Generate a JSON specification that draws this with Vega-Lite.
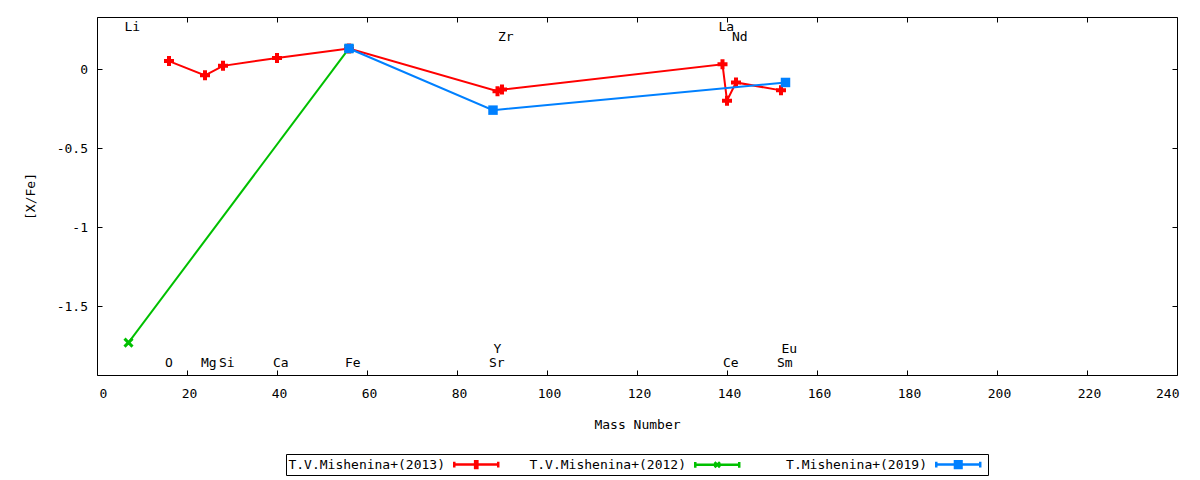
{
  "$schema": "https://vega.github.io/schema/vega-lite/v6.json",
  "width": 1080,
  "height": 358,
  "autosize": "none",
  "padding": {"left": 97, "top": 17, "right": 23, "bottom": 105},
  "background": "white",
  "config": {
    "font": "DejaVu Sans Mono",
    "view": {"stroke": "black", "strokeWidth": 1},
    "axis": {
      "grid": false, "domain": false,
      "tickColor": "black", "tickSize": -5, "tickWidth": 1,
      "labelColor": "black", "labelFontSize": 13, "labelFont": "DejaVu Sans Mono",
      "titleColor": "black", "titleFontSize": 13, "titleFont": "DejaVu Sans Mono", "titleFontWeight": "normal"
    },
    "legend": {"layout": {"bottom": {"anchor": "middle"}}}
  },
  "datasets": {
    "abund": [
      {"series": "T.V.Mishenina+(2013)", "el": "O", "mass": 16, "xfe": 0.05},
      {"series": "T.V.Mishenina+(2013)", "el": "Mg", "mass": 24, "xfe": -0.04},
      {"series": "T.V.Mishenina+(2013)", "el": "Si", "mass": 28, "xfe": 0.02},
      {"series": "T.V.Mishenina+(2013)", "el": "Ca", "mass": 40, "xfe": 0.07},
      {"series": "T.V.Mishenina+(2013)", "el": "Fe", "mass": 56, "xfe": 0.13},
      {"series": "T.V.Mishenina+(2013)", "el": "Y", "mass": 89, "xfe": -0.14},
      {"series": "T.V.Mishenina+(2013)", "el": "Zr", "mass": 90, "xfe": -0.13},
      {"series": "T.V.Mishenina+(2013)", "el": "La", "mass": 139, "xfe": 0.03},
      {"series": "T.V.Mishenina+(2013)", "el": "Ce", "mass": 140, "xfe": -0.2},
      {"series": "T.V.Mishenina+(2013)", "el": "Nd", "mass": 142, "xfe": -0.085},
      {"series": "T.V.Mishenina+(2013)", "el": "Sm", "mass": 152, "xfe": -0.135},
      {"series": "T.V.Mishenina+(2012)", "el": "Li", "mass": 7, "xfe": -1.73},
      {"series": "T.V.Mishenina+(2012)", "el": "Fe", "mass": 56, "xfe": 0.13},
      {"series": "T.Mishenina+(2019)", "el": "Fe", "mass": 56, "xfe": 0.13},
      {"series": "T.Mishenina+(2019)", "el": "Sr", "mass": 88, "xfe": -0.26},
      {"series": "T.Mishenina+(2019)", "el": "Eu", "mass": 153, "xfe": -0.085}
    ],
    "elems": [
      {"el": "Li", "mass": 7, "level": "top"},
      {"el": "La", "mass": 139, "level": "top"},
      {"el": "Zr", "mass": 90, "level": "top2"},
      {"el": "Nd", "mass": 142, "level": "top2"},
      {"el": "O", "mass": 16, "level": "bottom"},
      {"el": "Mg", "mass": 24, "level": "bottom"},
      {"el": "Si", "mass": 28, "level": "bottom"},
      {"el": "Ca", "mass": 40, "level": "bottom"},
      {"el": "Fe", "mass": 56, "level": "bottom"},
      {"el": "Sr", "mass": 88, "level": "bottom"},
      {"el": "Ce", "mass": 140, "level": "bottom"},
      {"el": "Sm", "mass": 152, "level": "bottom"},
      {"el": "Y", "mass": 89, "level": "bottom2"},
      {"el": "Eu", "mass": 153, "level": "bottom2"}
    ]
  },
  "encoding": {
    "x": {"field": "mass", "type": "quantitative", "scale": {"domain": [0, 240]}, "axis": null}
  },
  "resolve": {"axis": {"x": "independent", "y": "independent"}},
  "layer": [
    {
      "data": {"name": "abund"},
      "transform": [{"filter": "datum.series === 'T.V.Mishenina+(2013)'"}],
      "mark": {"type": "line", "color": "#ff0000", "strokeWidth": 2},
      "encoding": {
        "x": {"field": "mass", "type": "quantitative", "scale": {"domain": [0, 240]},
          "axis": {"orient": "bottom", "values": [0, 20, 40, 60, 80, 100, 120, 140, 160, 180, 200, 220, 240],
            "labelOffset": 2, "labelPadding": 17.5, "title": "Mass Number", "titlePadding": 17.5}},
        "y": {"field": "xfe", "type": "quantitative", "scale": {"domain": [-1.935, 0.329], "nice": false},
          "axis": {"orient": "left", "values": [-1.5, -1, -0.5, 0], "labelExpr": "'' + datum.value",
            "labelPadding": 14.5, "title": "[X/Fe]", "titlePadding": 19}}
      }
    },
    {
      "data": {"name": "abund"},
      "transform": [{"filter": "datum.series === 'T.V.Mishenina+(2013)'"}],
      "mark": {"type": "point", "shape": "cross", "filled": true, "color": "#ff0000", "size": 100, "opacity": 1},
      "encoding": {
        "x": {"field": "mass", "type": "quantitative", "scale": {"domain": [0, 240]},
          "axis": {"orient": "top", "values": [0, 20, 40, 60, 80, 100, 120, 140, 160, 180, 200, 220, 240], "labels": false, "title": null}},
        "y": {"field": "xfe", "type": "quantitative", "scale": {"domain": [-1.935, 0.329], "nice": false},
          "axis": {"orient": "right", "values": [-1.5, -1, -0.5, 0], "labels": false, "title": null}}
      }
    },
    {
      "data": {"name": "abund"},
      "transform": [{"filter": "datum.series === 'T.V.Mishenina+(2012)'"}],
      "mark": {"type": "line", "color": "#00c000", "strokeWidth": 2},
      "encoding": {"y": {"field": "xfe", "type": "quantitative", "scale": {"domain": [-1.935, 0.329], "nice": false}, "axis": null}}
    },
    {
      "data": {"name": "abund"},
      "transform": [{"filter": "datum.series === 'T.V.Mishenina+(2012)'"}],
      "mark": {"type": "point", "shape": "M-1,-1L1,1M-1,1L1,-1", "filled": false, "color": "#00c000", "size": 64, "strokeWidth": 3, "opacity": 1},
      "encoding": {"y": {"field": "xfe", "type": "quantitative", "scale": {"domain": [-1.935, 0.329], "nice": false}, "axis": null}}
    },
    {
      "data": {"name": "abund"},
      "transform": [{"filter": "datum.series === 'T.Mishenina+(2019)'"}],
      "mark": {"type": "line", "color": "#0080ff", "strokeWidth": 2},
      "encoding": {"y": {"field": "xfe", "type": "quantitative", "scale": {"domain": [-1.935, 0.329], "nice": false}, "axis": null}}
    },
    {
      "data": {"name": "abund"},
      "transform": [{"filter": "datum.series === 'T.Mishenina+(2019)'"}],
      "mark": {"type": "point", "shape": "square", "filled": true, "color": "#0080ff", "size": 90, "opacity": 1},
      "encoding": {"y": {"field": "xfe", "type": "quantitative", "scale": {"domain": [-1.935, 0.329], "nice": false}, "axis": null}}
    },
    {
      "data": {"name": "elems"},
      "transform": [{"filter": "datum.level === 'top'"}],
      "mark": {"type": "text", "font": "DejaVu Sans Mono", "fontSize": 13, "color": "black", "align": "left", "baseline": "middle", "dx": -4},
      "encoding": {
        "y": {"datum": 0.265, "type": "quantitative", "scale": {"domain": [-1.935, 0.329], "nice": false}, "axis": null},
        "text": {"field": "el", "type": "nominal"}
      }
    },
    {
      "data": {"name": "elems"},
      "transform": [{"filter": "datum.level === 'top2'"}],
      "mark": {"type": "text", "font": "DejaVu Sans Mono", "fontSize": 13, "color": "black", "align": "left", "baseline": "middle", "dx": -4},
      "encoding": {
        "y": {"datum": 0.201, "type": "quantitative", "scale": {"domain": [-1.935, 0.329], "nice": false}, "axis": null},
        "text": {"field": "el", "type": "nominal"}
      }
    },
    {
      "data": {"name": "elems"},
      "transform": [{"filter": "datum.level === 'bottom'"}],
      "mark": {"type": "text", "font": "DejaVu Sans Mono", "fontSize": 13, "color": "black", "align": "left", "baseline": "middle", "dx": -4},
      "encoding": {
        "y": {"datum": -1.861, "type": "quantitative", "scale": {"domain": [-1.935, 0.329], "nice": false}, "axis": null},
        "text": {"field": "el", "type": "nominal"}
      }
    },
    {
      "data": {"name": "elems"},
      "transform": [{"filter": "datum.level === 'bottom2'"}],
      "mark": {"type": "text", "font": "DejaVu Sans Mono", "fontSize": 13, "color": "black", "align": "left", "baseline": "middle", "dx": -4},
      "encoding": {
        "y": {"datum": -1.771, "type": "quantitative", "scale": {"domain": [-1.935, 0.329], "nice": false}, "axis": null},
        "text": {"field": "el", "type": "nominal"}
      }
    },
    {
      "data": {"name": "abund"},
      "transform": [{"filter": "false"}],
      "mark": {"type": "point", "filled": true, "opacity": 1},
      "encoding": {
        "y": {"field": "xfe", "type": "quantitative", "scale": {"domain": [-1.935, 0.329], "nice": false}, "axis": null},
        "fill": {"field": "series", "type": "nominal",
          "scale": {"domain": ["T.V.Mishenina+(2013)", "T.V.Mishenina+(2012)", "T.Mishenina+(2019)"], "range": ["#ff0000", "#00c000", "#0080ff"]},
          "legend": {"title": null, "orient": "bottom", "direction": "horizontal", "columns": 3, "gridAlign": "all",
            "columnPadding": 25, "padding": 2, "offset": 23, "strokeColor": "black",
            "labelAlign": "right", "labelOffset": -39.75, "symbolOffset": 179.75, "labelFontSize": 13, "labelFont": "DejaVu Sans Mono", "labelColor": "black", "labelLimit": 400,
            "symbolSize": 196, "symbolStrokeWidth": 2.5, "symbolOpacity": 1}},
        "stroke": {"field": "series", "type": "nominal",
          "scale": {"domain": ["T.V.Mishenina+(2013)", "T.V.Mishenina+(2012)", "T.Mishenina+(2019)"], "range": ["#ff0000", "#00c000", "#0080ff"]},
          "legend": {"title": null, "orient": "bottom", "direction": "horizontal", "columns": 3, "gridAlign": "all",
            "columnPadding": 25, "padding": 2, "offset": 23, "strokeColor": "black",
            "labelAlign": "right", "labelOffset": -39.75, "symbolOffset": 179.75, "labelFontSize": 13, "labelFont": "DejaVu Sans Mono", "labelColor": "black", "labelLimit": 400,
            "symbolSize": 196, "symbolStrokeWidth": 2.5, "symbolOpacity": 1}},
        "shape": {"field": "series", "type": "nominal",
          "scale": {"domain": ["T.V.Mishenina+(2013)", "T.V.Mishenina+(2012)", "T.Mishenina+(2019)"],
            "range": [
              "M-3.14,0H3.14M-3.14,-0.41V0.41M3.14,-0.41V0.41M-0.16,-0.47H0.16V0.47H-0.16Z",
              "M-3.14,0H3.14M-3.14,-0.41V0.41M3.14,-0.41V0.41M-0.38,-0.38L0.38,0.38M-0.38,0.38L0.38,-0.38",
              "M-3.14,0H3.14M-3.14,-0.41V0.41M3.14,-0.41V0.41M-0.47,-0.47H0.47V0.47H-0.47Z"
            ]},
          "legend": {"title": null, "orient": "bottom", "direction": "horizontal", "columns": 3, "gridAlign": "all",
            "columnPadding": 25, "padding": 2, "offset": 23, "strokeColor": "black",
            "labelAlign": "right", "labelOffset": -39.75, "symbolOffset": 179.75, "labelFontSize": 13, "labelFont": "DejaVu Sans Mono", "labelColor": "black", "labelLimit": 400,
            "symbolSize": 196, "symbolStrokeWidth": 2.5, "symbolOpacity": 1}}
      }
    }
  ]
}
